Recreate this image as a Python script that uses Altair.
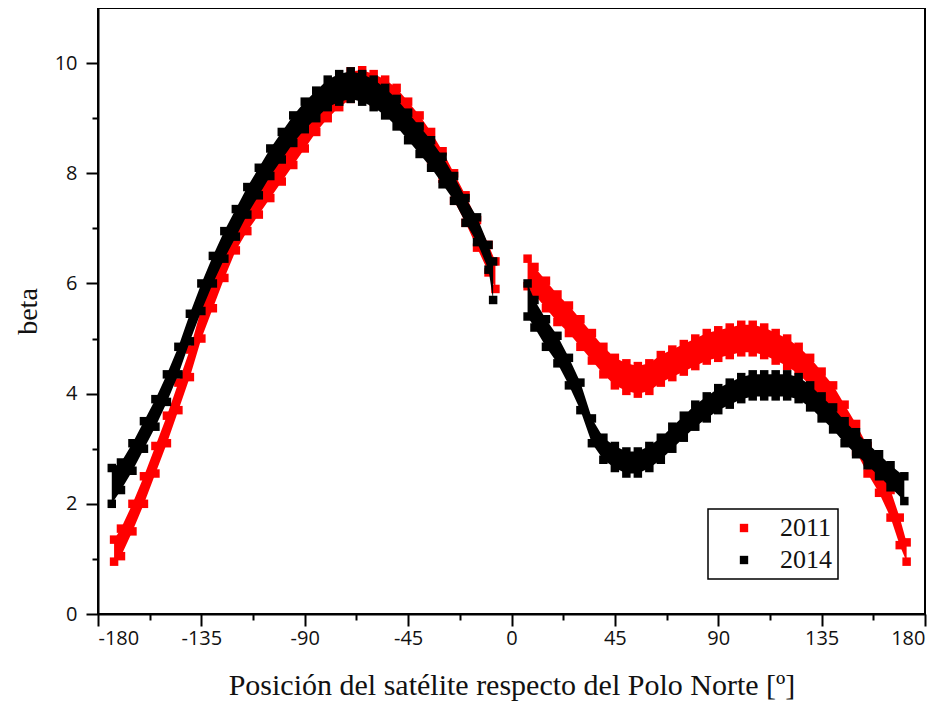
import altair as alt
import pandas as pd

# ---- data ----
YEARS = ["2011", "2014"]

x_2011_a = [-173, -170, -165, -160, -155, -150, -145, -140, -135, -130, -125, -120, -115, -110, -105, -100,
            -95, -90, -85, -80, -75, -70, -65, -60, -55, -50, -45, -40, -35, -30, -25, -20, -15, -10, -7]
lo_2011_a = [0.95, 1.05, 1.5, 2.0, 2.55, 3.1, 3.7, 4.3, 5.0, 5.55, 6.1, 6.6, 6.95, 7.25, 7.55, 7.85,
             8.15, 8.45, 8.75, 9.0, 9.2, 9.35, 9.37, 9.3, 9.2, 9.05, 8.8, 8.55, 8.25, 7.9, 7.5, 7.1, 6.65, 6.2, 5.9]
hi_2011_a = [1.35, 1.55, 2.0, 2.5, 3.05, 3.6, 4.2, 4.8, 5.55, 6.1, 6.65, 7.1, 7.45, 7.75, 8.05, 8.35,
             8.65, 8.95, 9.25, 9.5, 9.7, 9.85, 9.87, 9.8, 9.7, 9.55, 9.3, 9.05, 8.75, 8.4, 8.0, 7.6, 7.15, 6.7, 6.4]

x_2011_b = [7, 10, 15, 20, 25, 30, 35, 40, 45, 50, 55, 60, 65, 70, 75, 80, 85, 90, 95, 100, 105, 110,
            115, 120, 125, 130, 135, 140, 145, 150, 155, 160, 165, 169, 172]
lo_2011_b = [5.95, 5.8, 5.55, 5.3, 5.1, 4.85, 4.6, 4.35, 4.15, 4.05, 4.0, 4.05, 4.2, 4.3, 4.4, 4.5, 4.6, 4.65,
             4.7, 4.75, 4.75, 4.7, 4.6, 4.5, 4.35, 4.15, 3.9, 3.65, 3.3, 2.95, 2.55, 2.2, 1.75, 1.25, 0.95]
hi_2011_b = [6.45, 6.3, 6.05, 5.8, 5.6, 5.35, 5.1, 4.85, 4.65, 4.55, 4.5, 4.55, 4.7, 4.8, 4.9, 5.0, 5.1, 5.15,
             5.2, 5.25, 5.25, 5.2, 5.1, 5.0, 4.85, 4.65, 4.4, 4.15, 3.8, 3.45, 3.05, 2.7, 2.25, 1.75, 1.3]

x_2014_a = [-174, -170, -165, -160, -155, -150, -145, -140, -135, -130, -125, -120, -115, -110, -105, -100,
            -95, -90, -85, -80, -75, -70, -65, -60, -55, -50, -45, -40, -35, -30, -25, -20, -15, -10, -8]
lo_2014_a = [2.0, 2.25, 2.6, 3.0, 3.4, 3.85, 4.35, 4.95, 5.5, 6.0, 6.45, 6.85, 7.25, 7.6, 7.95, 8.25,
             8.55, 8.8, 9.0, 9.2, 9.3, 9.35, 9.3, 9.2, 9.05, 8.85, 8.6, 8.35, 8.1, 7.8, 7.5, 7.1, 6.75, 6.25, 5.7]
hi_2014_a = [2.65, 2.75, 3.1, 3.5, 3.9, 4.35, 4.85, 5.45, 6.0, 6.5, 6.95, 7.35, 7.75, 8.1, 8.45, 8.75,
             9.05, 9.3, 9.5, 9.7, 9.8, 9.85, 9.8, 9.7, 9.55, 9.35, 9.1, 8.85, 8.6, 8.3, 7.95, 7.55, 7.2, 6.7, 6.4]

x_2014_b = [7, 10, 15, 20, 25, 30, 35, 40, 45, 50, 55, 60, 65, 70, 75, 80, 85, 90, 95, 100, 105, 110,
            115, 120, 125, 130, 135, 140, 145, 150, 155, 160, 165, 171]
lo_2014_b = [5.4, 5.2, 4.85, 4.55, 4.15, 3.7, 3.1, 2.8, 2.65, 2.55, 2.55, 2.65, 2.8, 3.0, 3.2, 3.4, 3.55,
             3.7, 3.8, 3.9, 3.95, 3.95, 3.95, 3.95, 3.9, 3.75, 3.55, 3.35, 3.1, 2.9, 2.7, 2.5, 2.3, 2.05]
hi_2014_b = [6.0, 5.7, 5.35, 5.05, 4.65, 4.2, 3.55, 3.2, 3.05, 2.95, 2.95, 3.05, 3.2, 3.4, 3.6, 3.8, 3.95,
             4.1, 4.2, 4.3, 4.35, 4.35, 4.35, 4.35, 4.3, 4.15, 3.95, 3.75, 3.5, 3.3, 3.1, 2.9, 2.7, 2.5]

X_TICKS = [-180, -157.5, -135, -112.5, -90, -67.5, -45, -22.5, 0, 22.5, 45, 67.5, 90, 112.5, 135, 157.5, 180]
Y_TICKS = [0, 1, 2, 3, 4, 5, 6, 7, 8, 9, 10]

COLORS = ["#ff0000", "#000000"]

# ---- tables ----
def band(year, branch, xs, lo, hi):
    return pd.DataFrame({"x": xs, "lo": lo, "hi": hi, "year": year, "branch": branch})

def pts(year, xs, lo, hi):
    return pd.DataFrame({"x": list(xs) + list(xs), "y": list(lo) + list(hi), "year": year})

band_df = pd.concat([
    band("2011", "a", x_2011_a, lo_2011_a, hi_2011_a),
    band("2011", "b", x_2011_b, lo_2011_b, hi_2011_b),
    band("2014", "a", x_2014_a, lo_2014_a, hi_2014_a),
    band("2014", "b", x_2014_b, lo_2014_b, hi_2014_b),
])
pts_df = pd.concat([
    pts("2011", x_2011_a, lo_2011_a, hi_2011_a),
    pts("2011", x_2011_b, lo_2011_b, hi_2011_b),
    pts("2014", x_2014_a, lo_2014_a, hi_2014_a),
    pts("2014", x_2014_b, lo_2014_b, hi_2014_b),
])

xscale = alt.Scale(domain=[-180, 180], nice=False, zero=False)
yscale = alt.Scale(domain=[0, 11], nice=False)
cscale = alt.Scale(domain=YEARS, range=COLORS)
legend = alt.Legend(title=None, symbolType="square")

x_axis = alt.Axis(
    values=X_TICKS, labelExpr="datum.value % 45 === 0 ? '' + datum.value : ''",
    tickSize={"condition": {"test": "datum.value % 45 === 0", "value": 12}, "value": 6},
    labelPadding=2, title="Posición del satélite respecto del Polo Norte [º]",
    titleFontSize=30, titlePadding=22,
)
y_axis = alt.Axis(
    values=Y_TICKS, labelExpr="datum.value % 2 === 0 ? '' + datum.value : ''",
    tickSize={"condition": {"test": "datum.value % 2 === 0", "value": 12}, "value": 6},
    labelPadding=9, title="beta", titleFontSize=28, titlePadding=12,
)

layers = []
for yr in YEARS:
    b = alt.Chart(band_df).transform_filter(alt.datum.year == yr).mark_area(opacity=1).encode(
        x=alt.X("x:Q", scale=xscale, axis=x_axis),
        y=alt.Y("lo:Q", scale=yscale, axis=y_axis),
        y2="hi:Q",
        color=alt.Color("year:N", scale=cscale, legend=legend),
        detail="branch:N",
    )
    p = alt.Chart(pts_df).transform_filter(alt.datum.year == yr).mark_square(size=72, opacity=1).encode(
        x=alt.X("x:Q", scale=xscale),
        y=alt.Y("y:Q", scale=yscale),
        color=alt.Color("year:N", scale=cscale, legend=legend),
    )
    layers += [b, p]

chart = alt.layer(*layers).properties(
    width=827, height=606, autosize="none",
    padding={"left": 90, "top": 0, "right": 13, "bottom": 92},
).configure_view(stroke="black", strokeWidth=2).configure_axis(
    domainColor="black", domainWidth=2, tickColor="black", tickWidth=2, grid=False,
    labelFont="Open Sans", labelFontSize=20, labelColor="#111111",
    titleFont="Liberation Serif", titleFontWeight="normal", titleColor="#111111",
).configure_legend(
    orient="none", legendX=610, legendY=501, strokeColor="black", strokeWidth=1.5,
    fillColor="white", padding=6, symbolType="square", symbolSize=70, symbolOffset=17,
    labelFont="Liberation Serif", labelFontSize=26, labelColor="#111111", labelOffset=23,
    rowPadding=6, symbolStrokeWidth=0,
)

chart.save("out.html", embed_options={"renderer": "svg", "actions": False})
